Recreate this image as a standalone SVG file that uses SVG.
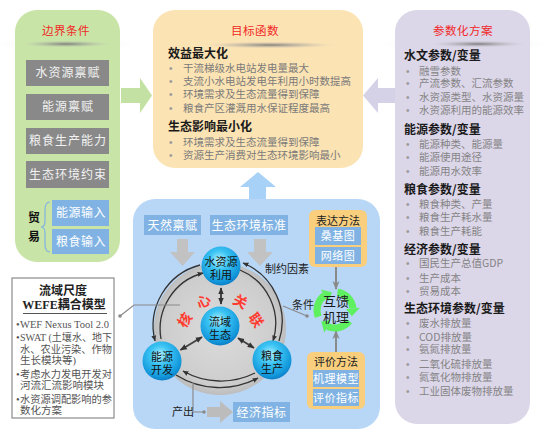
<svg xmlns="http://www.w3.org/2000/svg" width="550" height="436" viewBox="0 0 550 436">
<defs>
<style>
text{font-family:"Noto Sans CJK SC","Liberation Sans",sans-serif;}
.ttl{font-size:11.5px;fill:#f02828;text-anchor:middle;letter-spacing:0.5px}
.hd{font-size:12px;font-weight:bold;fill:#1a1a1a}
.bl{font-size:10.5px;fill:#848484}
.blm{font-size:10.5px;fill:#7a7a7a}
.dot{font-size:10px;fill:#9a9a9a;font-family:"Liberation Sans",sans-serif}
.gb{fill:#898989}
.gbt{font-size:12px;fill:#f2f2f2;text-anchor:middle;letter-spacing:1px}
.bb{fill:#80b3e3}
.bbt{font-size:12px;fill:#ffffff;text-anchor:middle;letter-spacing:0.5px}
.sbt{font-size:11px;fill:#ffffff;text-anchor:middle;letter-spacing:0.5px}
.sph{fill:url(#sg)}
.spt{font-size:11px;fill:#111;text-anchor:middle}
.arc{fill:none;stroke:#333;stroke-width:1.3}
.dbl{fill:none;stroke:#444;stroke-width:2}
.gl{fill:none;stroke:#8a8a8a;stroke-width:1.2}
.lbl{font-size:11px;fill:#222}
.red{font-size:14px;font-weight:bold;fill:#ff3b2f;text-anchor:middle}
.ob{fill:#f9cf7e}
.wt{font-size:10.5px;fill:#555;font-family:"Liberation Serif","Noto Sans CJK SC",serif}
.wh{font-size:12px;font-weight:bold;fill:#222;text-anchor:middle;font-family:"Liberation Serif","Noto Sans CJK SC",serif}
.grn{fill:none;stroke:#5ef05e;stroke-width:7}
</style>
<radialGradient id="sg" cx="0.45" cy="0.35" r="0.7">
<stop offset="0" stop-color="#b4f2ff"/>
<stop offset="0.35" stop-color="#3cc4f4"/>
<stop offset="0.8" stop-color="#1196da"/>
<stop offset="1" stop-color="#0b72bd"/>
</radialGradient>
<radialGradient id="cg" cx="0.5" cy="0.5" r="0.5">
<stop offset="0" stop-color="#dcdcdc"/>
<stop offset="0.85" stop-color="#cdcdcd"/>
<stop offset="1" stop-color="#bdbdbd"/>
</radialGradient>
<radialGradient id="shd" cx="0.5" cy="0.5" r="0.5">
<stop offset="0" stop-color="#6e6e6e" stop-opacity="0.85"/>
<stop offset="0.6" stop-color="#a0a0a0" stop-opacity="0.35"/>
<stop offset="1" stop-color="#cccccc" stop-opacity="0"/>
</radialGradient>
<radialGradient id="shf" cx="0.5" cy="0.5" r="0.5">
<stop offset="0" stop-color="#bbbbbb" stop-opacity="0.35"/>
<stop offset="1" stop-color="#dddddd" stop-opacity="0"/>
</radialGradient>
<marker id="ah" viewBox="0 0 10 10" refX="9" refY="5" markerWidth="6" markerHeight="6" orient="auto-start-reverse" markerUnits="userSpaceOnUse"><path d="M0,1 L10,5 L0,9 z" fill="#333"/></marker>
<marker id="ad" viewBox="0 0 10 10" refX="9" refY="5" markerWidth="7" markerHeight="7" orient="auto-start-reverse" markerUnits="userSpaceOnUse"><path d="M0,1 L10,5 L0,9 z" fill="#333"/></marker>
<marker id="ag" viewBox="0 0 10 10" refX="9" refY="5" markerWidth="9" markerHeight="9" orient="auto" markerUnits="userSpaceOnUse"><path d="M0,1 L10,5 L0,9 L3,5 z" fill="#8a8a8a"/></marker>
</defs>

<rect width="550" height="436" fill="#ffffff"/>

<!-- Left panel: boundary conditions -->
<g id="boundary">
<ellipse cx="66" cy="44" rx="68" ry="9" fill="url(#shf)"/>
<rect x="15" y="10" width="105" height="252" rx="22" fill="#c8e4a6"/>
<ellipse cx="66" cy="44" rx="46" ry="3.5" fill="url(#shd)"/>
<text class="ttl" x="66" y="35">边界条件</text>
<rect class="gb" x="26" y="60" width="83" height="26"/>
<text class="gbt" x="68" y="77">水资源禀赋</text>
<rect class="gb" x="26" y="94" width="83" height="26"/>
<text class="gbt" x="68" y="111">能源禀赋</text>
<rect class="gb" x="26" y="128" width="83" height="26"/>
<text class="gbt" x="68" y="145">粮食生产能力</text>
<rect class="gb" x="26" y="161" width="83" height="27"/>
<text class="gbt" x="68" y="179">生态环境约束</text>
<rect class="bb" x="52" y="200" width="57" height="26"/>
<text class="bbt" x="81" y="217">能源输入</text>
<rect class="bb" x="52" y="229" width="57" height="25"/>
<text class="bbt" x="81" y="245.5">粮食输入</text>
<path d="M50,202 Q45,202 45,210 L45,221 Q45,227 41,227 Q45,227 45,233 L45,244 Q45,252 50,252" fill="none" stroke="#80b3e3" stroke-width="1.2"/>
<text x="34" y="222" font-size="12" font-weight="bold" fill="#111" text-anchor="middle">贸</text>
<text x="34" y="241" font-size="12" font-weight="bold" fill="#111" text-anchor="middle">易</text>
</g>

<!-- Middle top panel: objective function -->
<g id="objective">
<rect x="153" y="10" width="210" height="158" rx="22" fill="#fce3b3"/>
<ellipse cx="270" cy="45" rx="66" ry="3.5" fill="url(#shd)"/>
<text class="ttl" x="255" y="35">目标函数</text>
<text class="hd" x="168" y="58">效益最大化</text>
<text class="dot" x="169" y="72">•</text><text class="blm" x="183" y="72">干流梯级水电站发电量最大</text>
<text class="dot" x="169" y="85">•</text><text class="blm" x="183" y="85">支流小水电站发电年利用小时数提高</text>
<text class="dot" x="169" y="98">•</text><text class="blm" x="183" y="98">环境需求及生态流量得到保障</text>
<text class="dot" x="169" y="112">•</text><text class="blm" x="183" y="112">粮食产区灌溉用水保证程度最高</text>
<text class="hd" x="168" y="131">生态影响最小化</text>
<text class="dot" x="169" y="146">•</text><text class="blm" x="183" y="146">环境需求及生态流量得到保障</text>
<text class="dot" x="169" y="159">•</text><text class="blm" x="183" y="159">资源生产消费对生态环境影响最小</text>
</g>

<!-- Right panel: parameterization scheme -->
<g id="params">
<ellipse cx="463" cy="44" rx="84" ry="9" fill="url(#shf)"/>
<rect x="395" y="10" width="135" height="414" rx="22" fill="#dcd6e9"/>
<ellipse cx="478" cy="44" rx="48" ry="3.5" fill="url(#shd)"/>
<text class="ttl" x="463" y="35">参数化方案</text>
<text class="hd" x="404" y="60">水文参数/变量</text>
<text class="dot" x="406" y="75">•</text><text class="bl" x="419" y="75">融雪参数</text>
<text class="dot" x="406" y="87">•</text><text class="bl" x="419" y="87">产流参数、汇流参数</text>
<text class="dot" x="406" y="101">•</text><text class="bl" x="419" y="101">水资源类型、水资源量</text>
<text class="dot" x="406" y="114">•</text><text class="bl" x="419" y="114">水资源利用的能源效率</text>
<text class="hd" x="404" y="133.5">能源参数/变量</text>
<text class="dot" x="406" y="148">•</text><text class="bl" x="419" y="148">能源种类、能源量</text>
<text class="dot" x="406" y="161">•</text><text class="bl" x="419" y="161">能源使用途径</text>
<text class="dot" x="406" y="175">•</text><text class="bl" x="419" y="175">能源用水效率</text>
<text class="hd" x="404" y="193.5">粮食参数/变量</text>
<text class="dot" x="406" y="208">•</text><text class="bl" x="419" y="208">粮食种类、产量</text>
<text class="dot" x="406" y="221">•</text><text class="bl" x="419" y="221">粮食生产耗水量</text>
<text class="dot" x="406" y="235">•</text><text class="bl" x="419" y="235">粮食生产耗能</text>
<text class="hd" x="404" y="253.5">经济参数/变量</text>
<text class="dot" x="406" y="267">•</text><text class="bl" x="419" y="267">国民生产总值GDP</text>
<text class="dot" x="406" y="282">•</text><text class="bl" x="419" y="282">生产成本</text>
<text class="dot" x="406" y="295">•</text><text class="bl" x="419" y="295">贸易成本</text>
<text class="hd" x="404" y="312.5">生态环境参数/变量</text>
<text class="dot" x="406" y="327">•</text><text class="bl" x="419" y="327">废水排放量</text>
<text class="dot" x="406" y="341">•</text><text class="bl" x="419" y="341">COD排放量</text>
<text class="dot" x="406" y="353">•</text><text class="bl" x="419" y="353">氨氮排放量</text>
<text class="dot" x="406" y="368">•</text><text class="bl" x="419" y="368">二氧化硫排放量</text>
<text class="dot" x="406" y="381">•</text><text class="bl" x="419" y="381">氮氧化物排放量</text>
<text class="dot" x="406" y="395">•</text><text class="bl" x="419" y="395">工业固体废物排放量</text>
</g>

<!-- Big arrows between panels -->
<g id="panel-arrows">
<polygon points="121,88 140,88 140,78 152,95.5 140,113 140,103 121,103" fill="#c3e1a2"/>
<polygon points="395,88 378,88 378,78 363,95.5 378,113 378,103 395,103" fill="#d5d1e6"/>
<polygon points="258,172 276,187 266,187 266,199 249,199 249,187 240,187" fill="#a8d1f7"/>
</g>

<!-- Core blue panel -->
<g id="core-panel">
<rect x="133" y="199" width="247" height="230" rx="22" fill="#b8d7f7"/>
</g>

<g id="natural">
<rect class="bb" x="144" y="215" width="57" height="20"/>
<text class="bbt" x="172.5" y="229.5">天然禀赋</text>
</g>
<g id="eco-standard">
<rect class="bb" x="210" y="215" width="78" height="20"/>
<text class="bbt" x="249" y="229.5">生态环境标准</text>
</g>

<g id="core-circle">
<circle cx="220" cy="329" r="66" fill="url(#cg)"/>
<text class="red" transform="translate(189,323) rotate(-55)">核</text>
<text class="red" transform="translate(206,306) rotate(-28)">心</text>
<text class="red" transform="translate(238,306) rotate(28)">关</text>
<text class="red" transform="translate(252,323) rotate(55)">联</text>
</g>

<!-- connectors -->
<g id="connectors">
<polygon points="177,239 188,239 188,252 195,252 182.5,266 170,252 177,252" fill="#c2c2c2"/>
<polygon points="254,239 266,239 266,252 273,252 260,266 247,252 254,252" fill="#c2c2c2"/>
<path class="arc" d="M200,265 A63,63 0 0,0 155,341" marker-end="url(#ah)"/>
<path class="arc" d="M161,339 A58,58 0 0,1 203,273" marker-end="url(#ah)"/>
<path class="arc" d="M279,341 A63,63 0 0,0 243,263" marker-end="url(#ah)"/>
<path class="arc" d="M240,270 A58,58 0 0,1 273,341" marker-end="url(#ah)"/>
<path class="arc" d="M176,375 A82,82 0 0,0 258,378" marker-end="url(#ah)"/>
<path class="arc" d="M255,373 A76.5,76.5 0 0,1 183,371" marker-end="url(#ah)"/>
<path class="dbl" d="M221,288 L221,304" marker-start="url(#ad)" marker-end="url(#ad)"/>
<path class="dbl" d="M202,337 L180.5,350" marker-start="url(#ad)" marker-end="url(#ad)"/>
<path class="dbl" d="M238,338 L254,348" marker-start="url(#ad)" marker-end="url(#ad)"/>
<polyline class="gl" points="120,316 134,305 180,305"/>
<circle cx="120" cy="316" r="1.8" fill="#8a8a8a"/>
<line class="gl" x1="283" y1="306" x2="307" y2="316"/>
<circle cx="307" cy="316" r="1.8" fill="#8a8a8a"/>
<line x1="336" y1="267" x2="336" y2="289" stroke="#8a8a8a" stroke-width="2" marker-end="url(#ag)"/>
<line x1="336" y1="352" x2="336" y2="331" stroke="#8a8a8a" stroke-width="2" marker-end="url(#ag)"/>
<polyline class="gl" points="193,382 193,412 204,412"/>
<circle cx="204" cy="412" r="1.8" fill="#8a8a8a"/>
<polygon points="207,407 220,407 220,401 233,412 220,423 220,417 207,417" fill="#bcbcbc"/>
</g>

<text class="lbl" x="265" y="273">制约因素</text>
<text class="lbl" x="292" y="309">条件</text>
<text class="lbl" x="172" y="416">产出</text>

<g id="water">
<circle class="sph" cx="221" cy="266" r="19.5"/>
<text class="spt" x="221" y="266">水资源</text>
<text class="spt" x="221" y="279">利用</text>
</g>
<g id="ecology">
<circle class="sph" cx="220" cy="326" r="19.5"/>
<text class="spt" x="220" y="325.5">流域</text>
<text class="spt" x="220" y="338.5">生态</text>
</g>
<g id="energy">
<circle class="sph" cx="162" cy="361" r="19.5"/>
<text class="spt" x="162" y="360.5">能源</text>
<text class="spt" x="162" y="373.5">开发</text>
</g>
<g id="food">
<circle class="sph" cx="272" cy="360" r="19.5"/>
<text class="spt" x="272" y="360">粮食</text>
<text class="spt" x="272" y="373">生产</text>
</g>

<g id="economy">
<rect class="bb" x="233" y="402" width="57" height="20"/>
<text class="bbt" x="261.5" y="416.5">经济指标</text>
</g>

<g id="feedback">
<path class="grn" d="M337.5,292.2 A18,18 0 0,1 352.9,308.4"/>
<polygon points="346,309 359.9,307.8 351.9,316.2" fill="#5ef05e"/>
<path class="grn" d="M349.2,321.1 A18,18 0 0,1 327.4,326.3"/>
<polygon points="330.4,320 324.4,332.7 321.2,321.6" fill="#5ef05e"/>
<path class="grn" d="M318.3,316.7 A18,18 0 0,1 324.7,295.3"/>
<polygon points="328.7,301 320.7,289.5 331.9,292.3" fill="#5ef05e"/>
<text x="336" y="306" font-size="13" fill="#1a1a1a" text-anchor="middle">互馈</text>
<text x="336" y="322" font-size="13" fill="#1a1a1a" text-anchor="middle">机理</text>
</g>

<g id="expression">
<rect class="ob" x="309" y="210" width="58" height="57" rx="6"/>
<text class="lbl" x="338" y="225" text-anchor="middle">表达方法</text>
<rect class="bb" x="315" y="227" width="46" height="18"/>
<text class="sbt" x="338" y="240">桑基图</text>
<rect class="bb" x="315" y="247" width="46" height="17"/>
<text class="sbt" x="338" y="259.5">网络图</text>
</g>

<g id="evaluation">
<rect class="ob" x="307" y="352" width="58" height="57" rx="6"/>
<text class="lbl" x="336" y="366" text-anchor="middle">评价方法</text>
<rect class="bb" x="313" y="370" width="46" height="17"/>
<text class="sbt" x="336" y="382.5">机理模型</text>
<rect class="bb" x="313" y="389" width="46" height="17"/>
<text class="sbt" x="336" y="401.5">评价指标</text>
</g>

<g id="wefe-model">
<rect x="12" y="278" width="102" height="140" fill="#ffffff" stroke="#8a8a8a" stroke-width="1.2"/>
<text class="wh" x="63" y="295">流域尺度</text>
<text class="wh" x="64" y="309">WEFE耦合模型</text>
<line x1="23" y1="313.5" x2="107" y2="313.5" stroke="#555" stroke-width="1"/>
<text class="wt" x="16" y="328">•</text><text class="wt" x="20" y="328" font-size="10">WEF Nexus Tool 2.0</text>
<text class="wt" x="16" y="341">•</text><text class="wt" x="20" y="341" textLength="92" lengthAdjust="spacingAndGlyphs">SWAT (土壤水、地下</text>
<text class="wt" x="20" y="353" textLength="92" lengthAdjust="spacingAndGlyphs">水、农业污染、作物</text>
<text class="wt" x="20" y="364">生长模块等)</text>
<text class="wt" x="16" y="378">•</text><text class="wt" x="20" y="378" textLength="92" lengthAdjust="spacingAndGlyphs">考虑水力发电开发对</text>
<text class="wt" x="20" y="389">河流汇流影响模块</text>
<text class="wt" x="16" y="403">•</text><text class="wt" x="20" y="403" textLength="92" lengthAdjust="spacingAndGlyphs">水资源调配影响的参</text>
<text class="wt" x="20" y="414">数化方案</text>
</g>
</svg>
